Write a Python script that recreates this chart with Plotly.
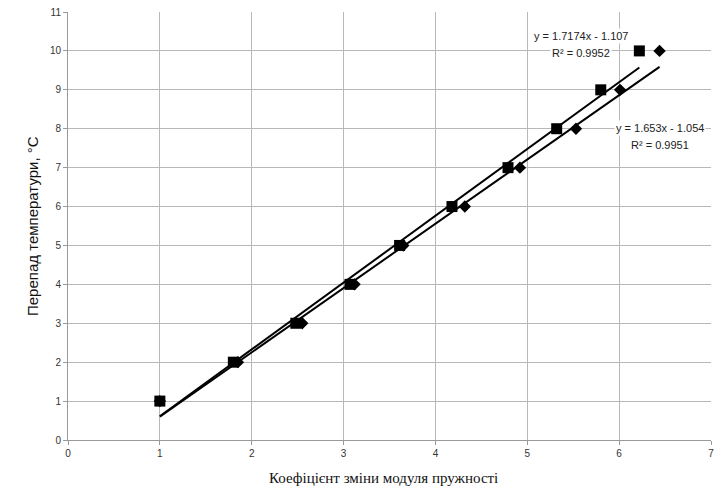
import plotly.graph_objects as go

# Temperature drop (°C) vs. elastic-modulus change coefficient, two series
dt_levels = [1, 2, 3, 4, 5, 6, 7, 8, 9, 10]
coef_sq = [1.0, 1.80, 2.48, 3.07, 3.61, 4.18, 4.79, 5.32, 5.80, 6.22]
coef_dm = [1.0, 1.85, 2.55, 3.12, 3.65, 4.32, 4.92, 5.53, 6.01, 6.44]

# Linear trend coefficients (slope, intercept, R²)
fit_sq = (1.7174, -1.107, 0.9952)
fit_dm = (1.653, -1.054, 0.9951)

x_ticks = [0, 1, 2, 3, 4, 5, 6, 7]
y_ticks = [0, 1, 2, 3, 4, 5, 6, 7, 8, 9, 10, 11]

x_title = "Коефіцієнт зміни модуля пружності"
y_title = "Перепад температури, °С"

W, H = 722, 493
M = dict(l=68, r=11, t=12, b=53)

fig = go.Figure()


def trend(xs, fit):
    x0, x1 = min(xs), max(xs)
    return [x0, x1], [fit[0] * x0 + fit[1], fit[0] * x1 + fit[1]]


tx, ty = trend(coef_sq, fit_sq)
fig.add_trace(go.Scatter(x=tx, y=ty, mode="lines",
                         line=dict(color="black", width=2), showlegend=False))
tx, ty = trend(coef_dm, fit_dm)
fig.add_trace(go.Scatter(x=tx, y=ty, mode="lines",
                         line=dict(color="black", width=2), showlegend=False))

fig.add_trace(go.Scatter(x=coef_dm, y=dt_levels, mode="markers",
                         marker=dict(symbol="diamond", size=9.5, color="black"),
                         showlegend=False))
fig.add_trace(go.Scatter(x=coef_sq, y=dt_levels, mode="markers",
                         marker=dict(symbol="square", size=11, color="black"),
                         showlegend=False))

ann_font = dict(family="Liberation Sans, Arial, sans-serif", size=11, color="#222")


def label(x, y, text):
    fig.add_annotation(x=x, y=y, xref="x", yref="y", text=text,
                       showarrow=False, align="center", bgcolor="white",
                       font=ann_font, borderpad=1)


label(5.59, 10.39, f"y = {fit_sq[0]}x - {abs(fit_sq[1])}")
label(5.59, 9.95, f"R² = {fit_sq[2]}")
label(6.44, 8.02, f"y = {fit_dm[0]}x - {abs(fit_dm[1])}")
label(6.44, 7.58, f"R² = {fit_dm[2]}")

# Axis titles placed in paper space
pw = W - M["l"] - M["r"]
ph = H - M["t"] - M["b"]
fig.add_annotation(x=(383 - M["l"]) / pw, y=-(478 - (H - M["b"])) / ph,
                   xref="paper", yref="paper", text=x_title, showarrow=False,
                   xanchor="center", yanchor="middle",
                   font=dict(family="Liberation Serif, Times New Roman, serif",
                             size=15, color="#111"))
fig.add_annotation(x=-(M["l"] - 32) / pw, y=0.5,
                   xref="paper", yref="paper", text=y_title, showarrow=False,
                   textangle=-90, xanchor="center", yanchor="middle",
                   font=dict(family="Liberation Sans, Arial, sans-serif",
                             size=15, color="#111"))

axis_common = dict(
    showgrid=True, gridcolor="#b8b8b8", gridwidth=1,
    showline=True, linecolor="#9a9a9a", linewidth=1,
    ticks="outside", ticklen=4, tickcolor="#9a9a9a",
    zeroline=False, automargin=False,
    tickfont=dict(family="Liberation Sans Narrow, Arial Narrow, Liberation Sans, sans-serif",
                  size=10, color="#333"),
)

fig.update_xaxes(range=[0, 7], tickvals=x_ticks, ticklabelstandoff=0, **axis_common)
fig.update_yaxes(range=[0, 11], tickvals=y_ticks, **axis_common)

fig.update_layout(
    width=W, height=H,
    margin=M,
    plot_bgcolor="white", paper_bgcolor="white",
)

fig.write_html("out.html")
